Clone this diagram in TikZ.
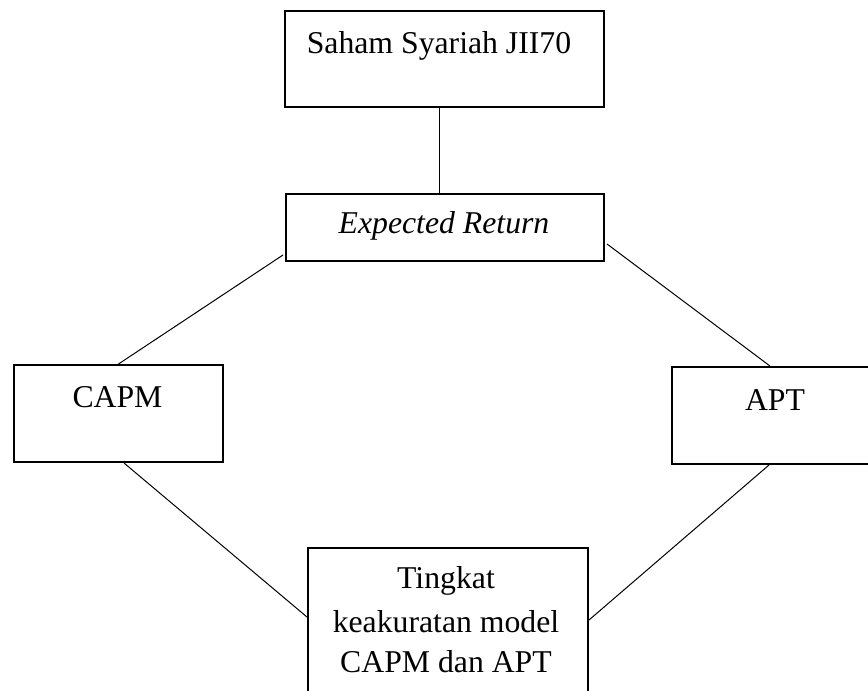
\documentclass[tikz,border=0pt]{standalone}
\usepackage{fontspec}
\setmainfont{Liberation Serif}
\usetikzlibrary{calc}

\tikzset{
  box/.style={draw, line width=1.5pt, inner sep=0pt, anchor=north west},
  link/.style={line width=0.75pt},
  lbl/.style={anchor=base, inner sep=0pt, font=\fontsize{23.8}{31.5}\selectfont}
}

\begin{document}
\begin{tikzpicture}[x=0.75pt, y=-0.75pt]
  \useasboundingbox (0,0) rectangle (868,690);
  \clip (0,0) rectangle (868,690);

  % boxes
  \node[box, minimum width=239.25pt, minimum height=72pt]    (b1)   at (284,10)  {};
  \node[box, minimum width=238.5pt,  minimum height=50.25pt] (b2)   at (285,193) {};
  \node[box, minimum width=156.75pt, minimum height=72.75pt] (capm) at (13,364)  {};
  \node[box, minimum width=157.5pt,  minimum height=72.75pt] (apt)  at (671,366) {};
  \node[box, minimum width=210pt,    minimum height=150pt]   (bot)  at (307,547) {};

  % labels
  \node[lbl] (t1)  at (439,53)    {Saham Syariah JII70};
  \node[lbl] (t2)  at (444,233)   {\itshape Expected Return};
  \node[lbl] (t3)  at (117.5,407) {CAPM};
  \node[lbl] (t4)  at (775,410)   {APT};
  \node[lbl] (t5a) at (446,588)   {Tingkat};
  \node[lbl] (t5b) at (446,632)   {keakuratan model};
  \node[lbl] (t5c) at (446,672)   {CAPM dan APT};

  % connectors
  \draw[link] ($(b1.south)+(-5.5,0)$) -- ($(b2.north)+(-6,0)$);
  \draw[link] ($(b2.south west)+(-2,-7)$) -- (capm.north);
  \draw[link] ($(b2.south east)+(2,-18)$) -- ($(apt.north)+(-7,0)$);
  \draw[link] ($(capm.south)+(5.5,0)$) -- ($(bot.north west)+(0,70)$);
  \draw[link] ($(apt.south)+(-8,0)$) -- ($(bot.north east)+(0,73)$);
\end{tikzpicture}
\end{document}
